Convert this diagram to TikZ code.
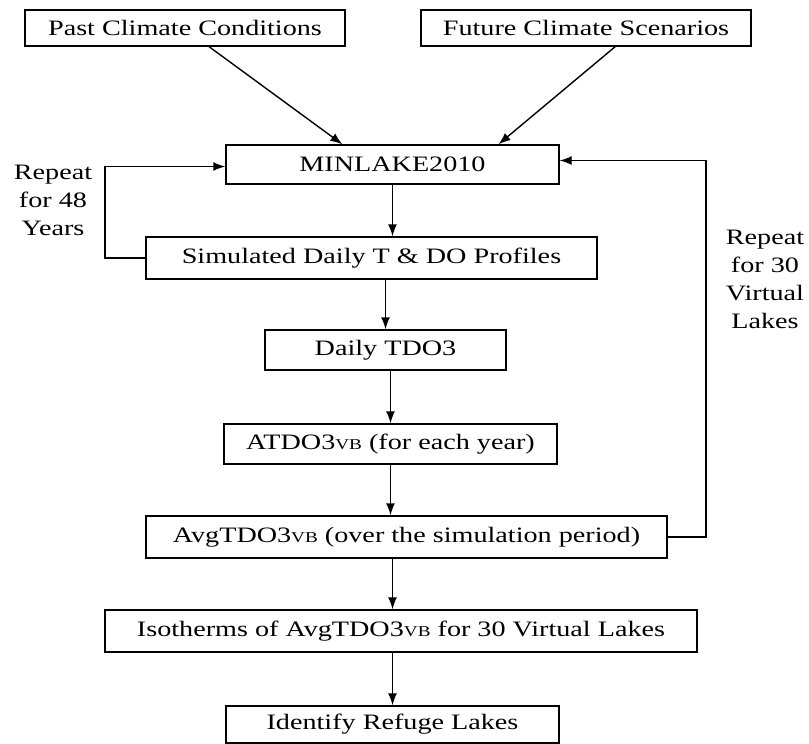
\documentclass[tikz,border=0pt]{standalone}
\usepackage{fontspec}
\setmainfont{Liberation Serif}[FakeStretch=1.28]
\usetikzlibrary{arrows.meta,calc}
\newcommand{\vbsub}{\raisebox{-0.5pt}{\fontsize{15}{15}\selectfont VB}}
\begin{document}
\begin{tikzpicture}[x=1pt,y=-1pt,
  box/.style={draw,line width=1.4pt,rectangle,inner sep=0pt,align=center,
    font=\fontsize{22}{28}\selectfont},
  lbl/.style={align=center,inner sep=0pt,font=\fontsize{22}{28}\selectfont},
  conn/.style={line width=1.4pt,-{Latex[length=12pt,width=9pt]}}]
\useasboundingbox (0,0) rectangle (809,744);
\node[box,minimum width=320pt,minimum height=36pt] (past) at (185,28) {Past Climate Conditions};
\node[box,minimum width=330pt,minimum height=36pt] (future) at (586,28) {Future Climate Scenarios};
\node[box,minimum width=333pt,minimum height=39pt] (minlake) at (392.5,164.5) {MINLAKE2010};
\node[box,minimum width=451pt,minimum height=42pt] (sim) at (371.5,258) {Simulated Daily T \& DO Profiles};
\node[box,minimum width=241pt,minimum height=40pt] (daily) at (385.5,350) {Daily TDO3};
\node[box,minimum width=333pt,minimum height=40pt] (atdo) at (390.5,444) {ATDO3\vbsub\ (for each year)};
\node[box,minimum width=521pt,minimum height=42pt] (avg) at (406.5,537) {AvgTDO3\vbsub\ (over the simulation period)};
\node[box,minimum width=592pt,minimum height=42pt] (iso) at (401,631) {Isotherms of AvgTDO3\vbsub\ for 30 Virtual Lakes};
\node[box,minimum width=333pt,minimum height=37pt] (ident) at (392.5,724.5) {Identify Refuge Lakes};
\node[lbl] (rep48) at (53,200) {Repeat\\for 48\\Years};
\node[lbl] (rep30) at (765,279) {Repeat\\for 30\\Virtual\\Lakes};
\coordinate (lx) at (105,0);
\coordinate (rx) at (706,0);
\draw[conn] ($(past.south west)!0.575!(past.south east)$) -- ($(minlake.north west)!0.35!(minlake.north east)$);
\draw[conn] ($(future.south west)!0.588!(future.south east)$) -- ($(minlake.north west)!0.817!(minlake.north east)$);
\draw[conn] (sim.west) -| (lx |- {$(minlake.west)+(0,2)$}) -- ($(minlake.west)+(0,2)$);
\draw[conn] (avg.east) -| (rx |- {$(minlake.east)+(0,-4)$}) -- ($(minlake.east)+(0,-4)$);
\draw[conn] (minlake.south) -- (minlake.south |- sim.north);
\draw[conn] (daily.north |- sim.south) -- (daily.north);
\draw[conn] (atdo.north |- daily.south) -- (atdo.north);
\draw[conn] (atdo.south) -- (atdo.south |- avg.north);
\draw[conn] (ident.north |- avg.south) -- (ident.north |- iso.north);
\draw[conn] (ident.north |- iso.south) -- (ident.north);
\end{tikzpicture}
\end{document}
